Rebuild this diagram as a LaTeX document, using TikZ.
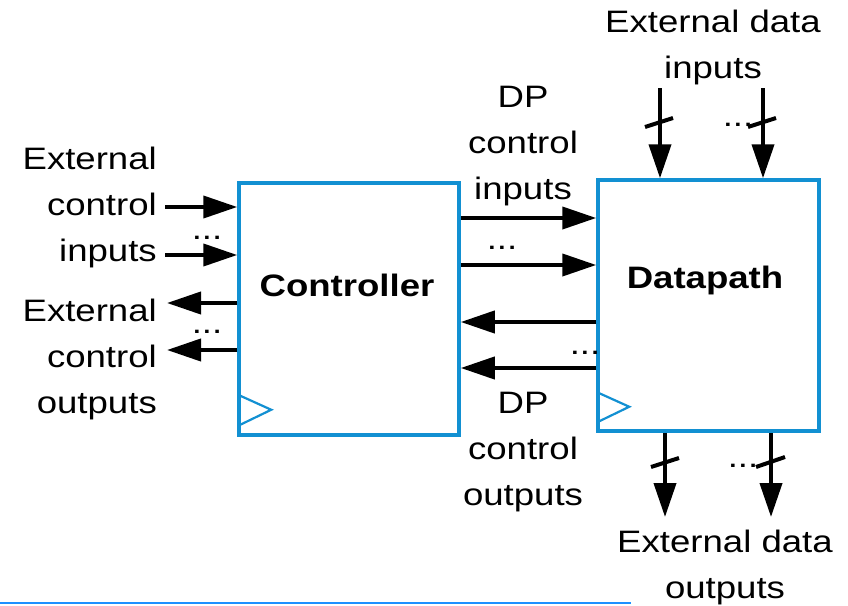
\documentclass[tikz,border=0pt]{standalone}
\usepackage{fontspec}
\setmainfont{Liberation Sans}[FakeStretch=1.18]
\usetikzlibrary{arrows.meta,calc}
\definecolor{boxblue}{RGB}{18,144,210}
\definecolor{lineblue}{RGB}{30,144,255}
\begin{document}
\begin{tikzpicture}[x=1pt,y=-1pt,
  lbl/.style={font=\fontsize{31}{46}\selectfont, inner sep=0pt},
  dots/.style={font=\fontsize{31}{46}\selectfont, inner sep=0pt, anchor=base},
  blk/.style={draw=boxblue, line width=3.5pt, inner sep=0pt},
  title/.style={font=\fontsize{31}{46}\selectfont\bfseries, inner sep=0pt},
  arr/.style={line width=4pt, -{Triangle[length=34pt,width=22pt]}},
  bus/.style={line width=4pt},
  clk/.style={draw=boxblue, line width=2.2pt},
]
\useasboundingbox (0,0) rectangle (848,605);

% blocks
\node[blk, minimum width=220pt, minimum height=252pt] (ctrl) at (349,309) {};
\node[blk, minimum width=221pt, minimum height=251pt] (dp) at (708.5,305.5) {};
\node[title] (ctrlt) at (347,285) {Controller};
\node[title] (dpt) at (705,280) {Datapath};

% clock triangles
\draw[clk] ($(ctrl.south west)+(3,-12)$) -- ++(31,-15) -- ++(-31,-14);
\draw[clk] ($(dp.south west)+(2,-11)$) -- ++(31,-15) -- ++(-31,-14);

% free ends
\coordinate (ein1) at (165,207);
\coordinate (ein2) at (165,255);
\coordinate (eout1) at (167,303);
\coordinate (eout2) at (167,350);
\coordinate (din1) at (660,88);
\coordinate (din2) at (763,88);
\coordinate (dout1) at (665,517);
\coordinate (dout2) at (771,517);

% external control inputs / outputs
\draw[arr] (ein1) -- (ein1 -| ctrl.west);
\draw[arr] (ein2) -- (ein2 -| ctrl.west);
\draw[arr] (eout1 -| ctrl.west) -- (eout1);
\draw[arr] (eout2 -| ctrl.west) -- (eout2);

% DP control inputs / outputs
\coordinate (ci1) at (0,218);
\coordinate (ci2) at (0,265);
\coordinate (co1) at (0,322);
\coordinate (co2) at (0,368);
\draw[arr] (ci1 -| ctrl.east) -- (ci1 -| dp.west);
\draw[arr] (ci2 -| ctrl.east) -- (ci2 -| dp.west);
\draw[arr] (co1 -| dp.west) -- (co1 -| ctrl.east);
\draw[arr] (co2 -| dp.west) -- (co2 -| ctrl.east);

% external data inputs / outputs
\draw[arr] (din1) -- (din1 |- dp.north);
\draw[arr] (din2) -- (din2 |- dp.north);
\draw[arr] (dout1 |- dp.south) -- (dout1);
\draw[arr] (dout2 |- dp.south) -- (dout2);

% bus slashes
\draw[bus] ($(din1)+(-15,39)$) -- ++(28,-9);
\draw[bus] ($(din2)+(-15,39)$) -- ++(28,-9);
\draw[bus] ($(dout1)+(-14,-50)$) -- ++(28,-9);
\draw[bus] ($(dout2)+(-15,-50)$) -- ++(29,-10);

% dots
\node[dots] (d1) at (207,239) {...};
\node[dots] (d2) at (207,333) {...};
\node[dots] (d3) at (502,249) {...};
\node[dots] (d4) at (585,354) {...};
\node[dots] (d5) at (738,126) {...};
\node[dots] (d6) at (743,467) {...};

% labels
\node[lbl, align=center] (edi) at (713,47) {External data\\inputs};
\node[lbl, align=center] (edo) at (725,567) {External data\\outputs};
\node[lbl, align=right, anchor=east] (eci) at (157,207) {External\\control\\inputs};
\node[lbl, align=right, anchor=east] (eco) at (157,359) {External\\control\\outputs};
\node[lbl, align=center] (dpi) at (523,146) {DP\\control\\inputs};
\node[lbl, align=center] (dpo) at (523,452) {DP\\control\\outputs};

% bottom rule
\coordinate (r1) at (0,603);
\coordinate (r2) at (631,603);
\draw[lineblue, line width=2.5pt] (r1) -- (r2);
\end{tikzpicture}
\end{document}
